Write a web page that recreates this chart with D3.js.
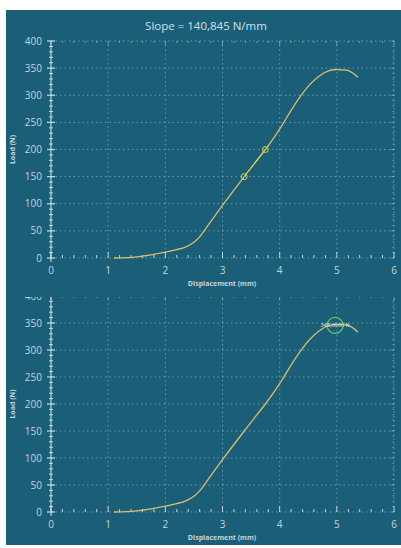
<!DOCTYPE html>
<html><head><meta charset="utf-8">
<script src="https://cdn.jsdelivr.net/npm/d3@7"></script>
<style>
html,body{margin:0;padding:0;background:#fff;}
svg{display:block;}
text{font-family:"Open Sans","Noto Sans",sans-serif;}
</style></head>
<body>
<script>
const titleText = "Slope = 140,845 N/mm";
const xLabel = "Displacement (mm)";
const yLabel = "Load (N)";
const xTicks = [0,1,2,3,4,5,6];
const yTicks = [0,50,100,150,200,250,300,350,400];
const displacement = [1.1,1.5,2.0,2.35,2.5,2.6,2.8,3.0,3.2,3.38,3.55,3.75,3.9,4.05,4.2,4.35,4.53,4.7,4.85,4.95,5.05,5.19,5.28,5.37];
const load =         [0,  2,  11, 20,  29, 39, 68, 97, 125,150,173,200, 222,246, 272,296, 320, 336,345, 347, 347, 346, 341, 333];
const slopePts = [[3.38,150],[3.75,200]];
const peak = {x:4.97, y:345.6, label:"345,6000 N"};

const W=401,H=548;
const svg=d3.select("body").append("svg").attr("width",W).attr("height",H);
const bg="#1b5e78";
svg.append("rect").attr("x",6).attr("y",10).attr("width",W-6).attr("height",535).attr("fill",bg);

const defs=svg.append("defs");
defs.append("clipPath").attr("id","clipB").append("rect").attr("x",0).attr("y",297).attr("width",W).attr("height",H-297);

const textCol="#c3d3db";
const lineCol="#d9bd6a";

function panel(g, y0, y400, opts){
  const x=d3.scaleLinear().domain([0,6]).range([51,394]);
  const y=d3.scaleLinear().domain([0,400]).range([y0,y400]);
  const grid=g.append("g").attr("stroke","rgba(200,225,235,0.45)").attr("stroke-width",1).attr("stroke-dasharray","1.5,3");
  grid.selectAll(".gx").data(xTicks.slice(1,6)).join("line")
    .attr("x1",d=>x(d)).attr("x2",d=>x(d)).attr("y1",y(0)).attr("y2",y(400));
  grid.selectAll(".gy").data(yTicks.slice(1)).join("line")
    .attr("x1",x(0)).attr("x2",x(6)).attr("y1",d=>y(d)).attr("y2",d=>y(d));
  grid.append("line").attr("x1",x(0)).attr("x2",x(6)).attr("y1",y(0)).attr("y2",y(0));
  grid.append("line").attr("x1",x(6)).attr("x2",x(6)).attr("y1",y(0)).attr("y2",y(400));
  const tcol="rgba(215,232,240,0.85)";
  const ax=g.append("g").attr("stroke",tcol);
  ax.append("line").attr("x1",x(0)).attr("x2",x(0)).attr("y1",y(0)+4).attr("y2",y(400)).attr("stroke-width",1.2);
  const yMinor=d3.range(0,401,10);
  ax.selectAll(".ym").data(yMinor).join("line")
    .attr("x1",d=>x(0)-(d%50===0?4:2)).attr("x2",d=>x(0)+(d%50===0?4:2))
    .attr("y1",d=>y(d)).attr("y2",d=>y(d)).attr("stroke-width",d=>d%50===0?1.3:1);
  ax.selectAll(".ymr").data(yMinor).join("line")
    .attr("x1",d=>x(6)-(d%50===0?3:1.5)).attr("x2",x(6))
    .attr("y1",d=>y(d)).attr("y2",d=>y(d)).attr("stroke-width",0.8).attr("opacity",0.7);
  const xMinor=d3.range(0,31).map(i=>i*0.2);
  ax.selectAll(".xm").data(xMinor).join("line")
    .attr("x1",d=>x(d)).attr("x2",d=>x(d))
    .attr("y1",y(0)).attr("y2",(d,i)=>y(0)-(i%5===0?6:3)).attr("stroke-width",1);
  ax.selectAll(".xmt").data(xMinor).join("line")
    .attr("x1",d=>x(d)).attr("x2",d=>x(d))
    .attr("y1",y(400)).attr("y2",(d,i)=>y(400)+(i%5===0?4:2)).attr("stroke-width",0.8).attr("opacity",0.7);
  g.selectAll(".yl").data(yTicks).join("text")
    .attr("x",42).attr("y",d=>y(d)+3.5).attr("text-anchor","end")
    .attr("font-size",10).attr("fill",textCol).text(d=>d);
  g.selectAll(".xl").data(xTicks).join("text")
    .attr("x",d=>x(d)).attr("y",y(0)+16).attr("text-anchor","middle")
    .attr("font-size",10).attr("fill",textCol).text(d=>d);
  g.append("text").attr("x",222).attr("y",y(0)+28).attr("text-anchor","middle")
    .attr("font-size",7).attr("font-weight","bold").attr("fill",textCol).text(xLabel);
  g.append("text").attr("transform",`translate(15,${(y(0)+y(400))/2}) rotate(-90)`)
    .attr("text-anchor","middle").attr("font-size",7).attr("font-weight","bold").attr("fill",textCol).text(yLabel);
  const pts=displacement.map((d,i)=>[d,load[i]]);
  const line=d3.line().x(d=>x(d[0])).y(d=>y(d[1])).curve(d3.curveCatmullRom);
  g.append("path").datum(pts).attr("d",line).attr("fill","none").attr("stroke",lineCol).attr("stroke-width",1.3);
  if(opts.slope){
    const s=d3.line().x(d=>x(d[0])).y(d=>y(d[1]));
    g.append("path").datum(slopePts).attr("d",s).attr("stroke","#d6d24e").attr("stroke-width",1).attr("fill","none");
    g.selectAll(".sm").data(slopePts).join("circle")
      .attr("cx",d=>x(d[0])).attr("cy",d=>y(d[1])).attr("r",3)
      .attr("fill","none").attr("stroke","#d6d24e").attr("stroke-width",1);
  }
  if(opts.peak){
    g.append("circle").attr("cx",x(peak.x)).attr("cy",y(peak.y)).attr("r",8)
      .attr("fill","none").attr("stroke","#5fc46a").attr("stroke-width",1.2);
    g.append("text").attr("x",x(peak.x)).attr("y",y(peak.y)+2).attr("text-anchor","middle")
      .attr("font-size",5.5).attr("fill","#e8eef0").text(peak.label);
  }
}

svg.append("text").attr("x",206).attr("y",30).attr("text-anchor","middle")
  .attr("font-size",11.5).attr("fill","#d3e0e6").text(titleText);

panel(svg.append("g"), 258, 41, {slope:true});
panel(svg.append("g").attr("clip-path","url(#clipB)"), 512, 296, {peak:true});
</script>
</body></html>
